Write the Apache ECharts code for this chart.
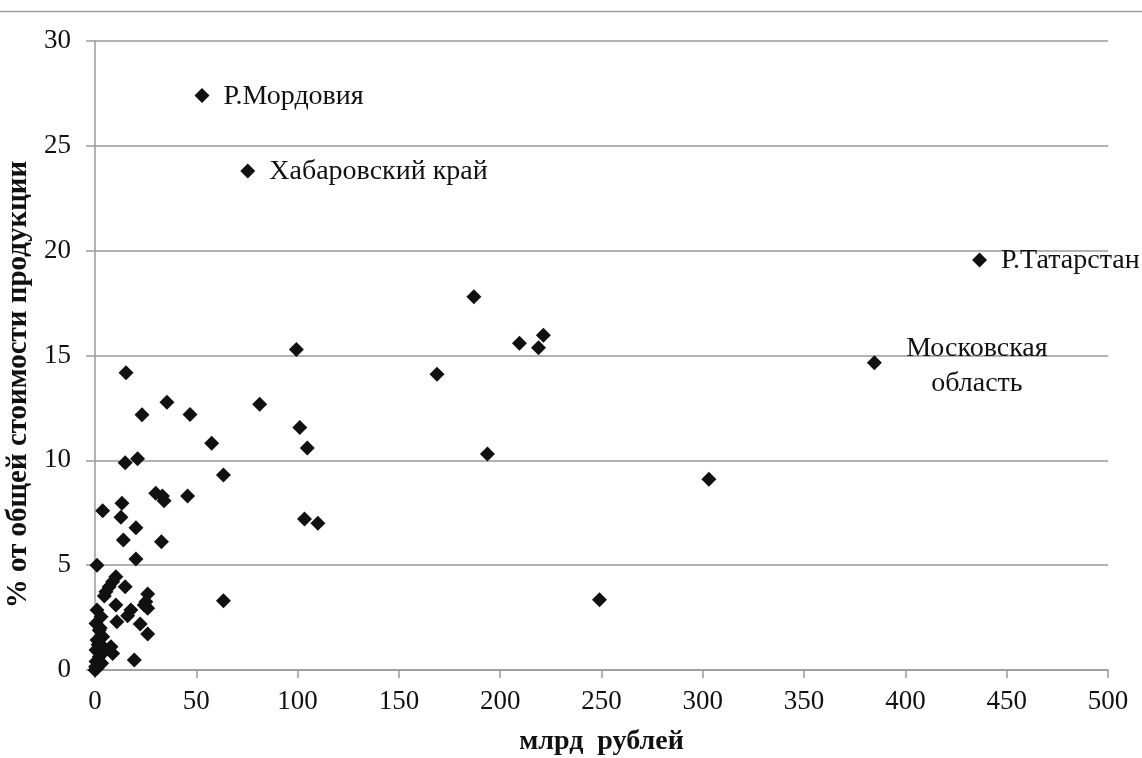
<!DOCTYPE html>
<html>
<head>
<meta charset="utf-8">
<script src="https://cdn.jsdelivr.net/npm/echarts@6/dist/echarts.min.js"></script>
<style>
html,body{margin:0;padding:0;background:#fff;}
#chart{width:1142px;height:758px;}
</style>
</head>
<body>
<div id="chart"></div>
<script>
// Labelled regions: [x (млрд рублей), y (%)]
var labelledNames = ['Р.Мордовия', 'Хабаровский край', 'Р.Татарстан', 'Московская\nобласть'];
var labelledPoints = [[52.8, 27.4], [75.4, 23.8], [436.6, 19.55], [384.7, 14.65]];

// Other regions
var otherPoints = [
  [187, 17.8], [209.5, 15.58], [218.9, 15.37], [221.3, 15.97], [168.8, 14.1],
  [193.7, 10.3], [303, 9.1], [249, 3.35], [99.4, 15.29], [101.1, 11.57],
  [104.8, 10.59], [103.4, 7.2], [110, 7.0], [81.3, 12.68], [46.9, 12.19],
  [35.5, 12.77], [57.6, 10.81], [63.4, 9.3], [45.7, 8.3], [63.4, 3.3],
  [15.3, 14.18], [23.2, 12.18], [14.9, 9.89], [21.0, 10.08],
  [30.0, 8.43], [33.3, 8.3], [34.1, 8.07], [32.8, 6.12],
  [3.8, 7.6], [13.3, 7.95], [12.8, 7.28], [20.2, 6.79], [14.0, 6.2],
  [20.2, 5.29], [1.0, 5.0],
  [10.3, 4.45], [8.7, 4.21], [7.0, 3.97], [5.4, 3.73], [4.6, 3.53],
  [14.9, 3.97], [26.0, 3.62], [25.1, 3.26], [24.3, 3.1], [10.3, 3.1],
  [17.7, 2.86], [16.1, 2.59], [26.0, 2.94], [10.8, 2.3], [22.3, 2.19],
  [26.0, 1.72], [19.4, 0.48], [7.9, 1.11], [8.7, 0.79],
  [1.0, 2.86], [3.0, 2.54], [0.5, 2.22], [2.1, 1.9], [3.8, 1.59],
  [1.0, 1.43], [3.0, 1.19], [0.5, 0.95], [4.3, 0.87], [2.1, 0.63],
  [0.5, 0.4], [3.3, 0.32], [1.0, 0.08], [0.0, 0.0], [2.6, 2.0],
  [1.5, 1.2], [0.3, 0.15]
];

var xTitle = 'млрд  рублей';
var yTitle = '% от общей стоимости продукции';

var serif = 'Liberation Serif, Times New Roman, serif';
var labelCfg = [
  {position: 'right', distance: 14, align: 'left', offset: [0, 1]},
  {position: 'right', distance: 14, align: 'left', offset: [0, 1]},
  {position: 'right', distance: 14, align: 'left', offset: [0, 1]},
  {position: 'right', distance: 95, align: 'center', offset: [0, 3], lineHeight: 35}
];

var labelledData = labelledPoints.map(function (p, i) {
  var c = labelCfg[i];
  return {
    value: p,
    label: {
      show: true,
      formatter: labelledNames[i],
      position: c.position,
      distance: c.distance,
      align: c.align,
      offset: c.offset,
      lineHeight: c.lineHeight || 28,
      fontFamily: serif,
      fontSize: 28,
      color: '#111'
    }
  };
});

var chart = echarts.init(document.getElementById('chart'), null, {renderer: 'canvas'});
chart.setOption({
  animation: false,
  backgroundColor: '#fff',
  grid: {left: 95, right: 34, top: 41, bottom: 88, containLabel: false, outerBoundsMode: 'none'},
  graphic: [{
    type: 'line',
    shape: {x1: 0, y1: 11.5, x2: 1142, y2: 11.5},
    style: {stroke: '#a0a0a0', lineWidth: 1.5}
  }],
  xAxis: {
    type: 'value', min: 0, max: 500, interval: 50,
    name: xTitle, nameLocation: 'middle', nameGap: 58,
    nameTextStyle: {fontFamily: serif, fontSize: 28, fontWeight: 'bold', color: '#111'},
    axisLine: {show: true, lineStyle: {color: '#9a9a9a', width: 1.5}},
    axisTick: {show: true, length: 8, lineStyle: {color: '#9a9a9a', width: 1.5}},
    axisLabel: {fontFamily: serif, fontSize: 27, color: '#111', margin: 18},
    splitLine: {show: false}
  },
  yAxis: {
    type: 'value', min: 0, max: 30, interval: 5,
    name: yTitle, nameLocation: 'middle', nameGap: 62, nameRotate: 90,
    nameTextStyle: {fontFamily: serif, fontSize: 29, fontWeight: 'bold', color: '#111', padding: [0, 58, 0, 0]},
    axisLine: {show: true, lineStyle: {color: '#9a9a9a', width: 1.5}},
    axisTick: {show: true, length: 9, lineStyle: {color: '#9a9a9a', width: 1.5}},
    axisLabel: {fontFamily: serif, fontSize: 27, color: '#111', margin: 24},
    splitLine: {show: true, lineStyle: {color: '#9a9a9a', width: 1.5}}
  },
  series: [{
    type: 'scatter',
    symbol: 'diamond',
    symbolSize: 15,
    itemStyle: {color: '#111', opacity: 1},
    data: otherPoints
  }, {
    type: 'scatter',
    symbol: 'diamond',
    symbolSize: 15,
    itemStyle: {color: '#111', opacity: 1},
    data: labelledData
  }]
});
</script>
</body>
</html>
